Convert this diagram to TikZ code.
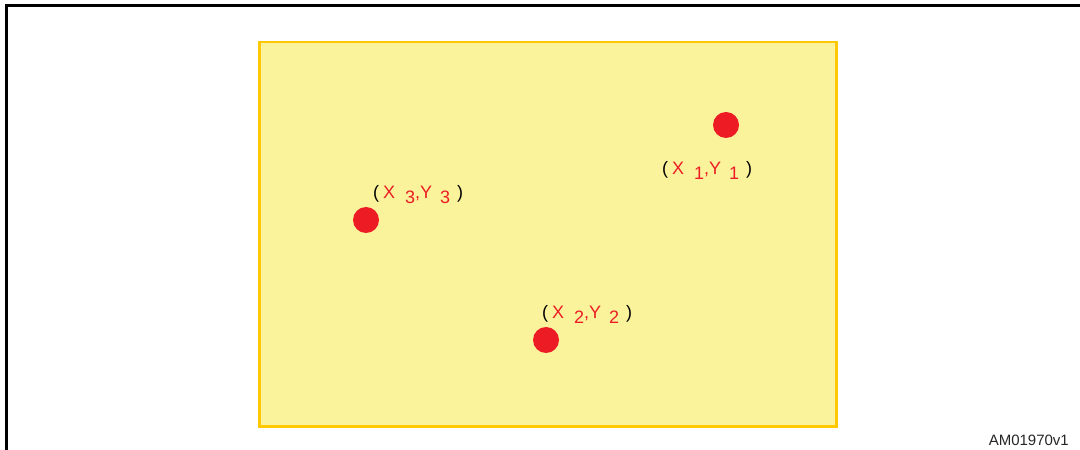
\documentclass[tikz,border=0pt]{standalone}
\usepackage{fontspec}
\setmainfont{Liberation Sans}
\definecolor{paneyellow}{RGB}{250,243,155}
\definecolor{paneborder}{RGB}{255,200,0}
\definecolor{dotred}{RGB}{237,28,36}
\newcommand{\ptlabel}[1]{{\color{black}(}\hspace{4bp}X\hspace{10bp}\raisebox{-5bp}{#1},Y\hspace{8bp}\raisebox{-5bp}{#1}\hspace{7bp}{\color{black})}}
\tikzset{
  x=1bp, y=-1bp,
  dot/.style={circle, fill=dotred, draw=none, minimum size=26bp, inner sep=0pt},
  ptlab/.style={anchor=base west, inner sep=0pt, text=dotred, font=\fontsize{18bp}{20bp}\selectfont},
  frameline/.style={draw=black, line width=3bp},
}
\begin{document}
\begin{tikzpicture}
\useasboundingbox (0,0) rectangle (1080,450);
% outer frame
\draw[frameline] (6,460) -- (6,6) -- (1090,6);
% yellow area
\node[draw=paneborder, fill=paneyellow, line width=2.5bp, anchor=north west,
      minimum width=577bp, minimum height=384bp, inner sep=0pt] (pane) at (258,41) {};
% dots
\node[dot] (d1) at (726,125) {};
\node[dot] (d2) at (546,340) {};
\node[dot] (d3) at (366,220) {};
% labels
\node[ptlab] (l1) at (662,175) {\ptlabel{1}};
\node[ptlab] (l2) at (542,319) {\ptlabel{2}};
\node[ptlab] (l3) at (373,199) {\ptlabel{3}};
% figure id
\node[anchor=base east, inner sep=0pt, font=\fontsize{15bp}{17bp}\selectfont, text=black!85] (fid) at (1069,445) {AM01970v1};
\end{tikzpicture}
\end{document}
